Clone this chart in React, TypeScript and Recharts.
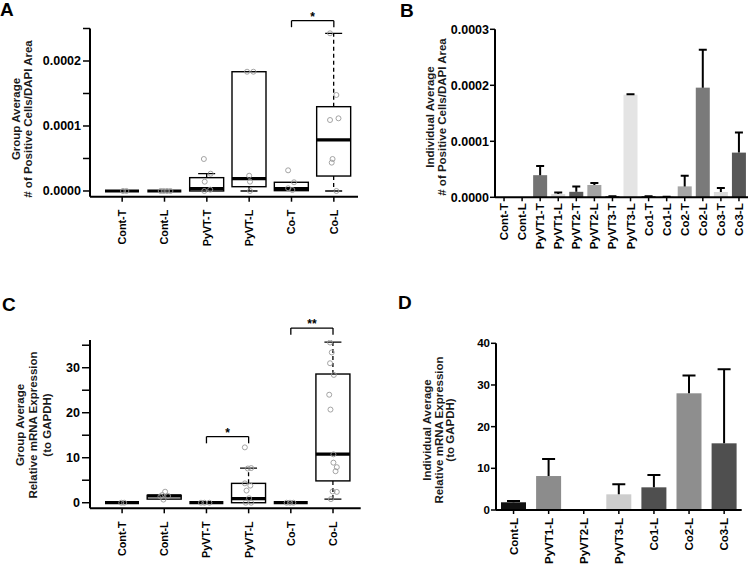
import React from 'react';
import { BarChart, ComposedChart, Bar, Scatter, XAxis, YAxis, ReferenceLine } from 'recharts';

const FONT = '"Liberation Sans", Arial, Helvetica, sans-serif';

// ---------- categories ----------
const groupCats = ['Cont-T', 'Cont-L', 'PyVT-T', 'PyVT-L', 'Co-T', 'Co-L'];
const indivCatsB = ['Cont-T', 'Cont-L', 'PyVT1-T', 'PyVT1-L', 'PyVT2-T', 'PyVT2-L', 'PyVT3-T', 'PyVT3-L', 'Co1-T', 'Co1-L', 'Co2-T', 'Co2-L', 'Co3-T', 'Co3-L'];
const indivCatsD = ['Cont-L', 'PyVT1-L', 'PyVT2-L', 'PyVT3-L', 'Co1-L', 'Co2-L', 'Co3-L'];

// ---------- panel A: group boxes (# positive cells / DAPI area) ----------
const aQ1 = [0, 0, 0, 0.0000066, 0.0000005, 0.000023];
const aMed = [0, 0, 0.0000035, 0.0000189, 0.0000035, 0.0000785];
const aQ3 = [0, 0, 0.0000205, 0.0001835, 0.0000134, 0.0001297];
const aLo = [0, 0, 0, 0, 0.0000005, 0];
const aHi = [0, 0, 0.0000266, 0.0001835, 0.0000134, 0.0002426];
// individual points: group (1-based), jitter (in category units), value
const aPtCat = [1, 1, 2, 2, 2, 2, 3, 3, 3, 3, 3, 4, 4, 4, 4, 4, 5, 5, 5, 5, 6, 6, 6, 6, 6, 6, 6];
const aPtJit = [0.02, 0.1, -0.09, -0.02, 0.06, 0.14, -0.07, 0.09, -0.05, -0.06, 0.08, -0.05, 0.1, 0, 0.02, 0.02, -0.08, 0.06, -0.08, 0.02, -0.09, 0.06, -0.09, 0.11, -0.03, -0.05, 0.06];
const aPtVal = [0, 0, 0, 0, 0, 0, 0.0000492, 0.0000266, 0.0000143, 0, 0.000002, 0.0001835, 0.0001835, 0.0000235, 0.0000143, 0, 0.0000318, 0.0000134, 0.0000042, 0.0000015, 0.0002426, 0.0001477, 0.0001092, 0.0001118, 0.0000492, 0.0000436, 0];
const aBrFrom = [5];
const aBrTo = [6];
const aBrY = [0.000262];
const aBrLeg = [0.000252];
const aBrText = ['*'];
const aTicks = [0, 0.00005, 0.0001, 0.00015, 0.0002, 0.00025];
const aLabelled = [0, 0.0001, 0.0002];

// ---------- panel B: individual bars ----------
const bVal = [0, 0, 0.0000395, 0.0000057, 0.0000098, 0.000022, 0.000002, 0.0001833, 0.000002, 0.000001, 0.0000195, 0.0001958, 0.0000095, 0.0000798];
const bErr = [0, 0, 0.0000162, 0.0000028, 0.0000095, 0.0000034, 0, 0.0000005, 0, 0, 0.000019, 0.0000679, 0.000007, 0.0000357];
const bColors = ['#222', '#222', '#737373', '#d8d8d8', '#5a5a5a', '#a3a3a3', '#3a3a3a', '#e4e4e4', '#3a3a3a', '#666', '#a6a6a6', '#7a7a7a', '#dadada', '#575757'];
const bTicks = [0, 0.0001, 0.0002, 0.0003];

// ---------- panel C: group boxes (mRNA expression) ----------
const cQ1 = [0, 0.8, 0, 0, 0, 4.85];
const cMed = [0, 1.5, 0, 0.9, 0, 10.8];
const cQ3 = [0, 1.65, 0, 4.3, 0, 28.6];
const cLo = [0, 0.8, 0, 0, 0, 0.8];
const cHi = [0, 1.65, 0, 7.7, 0, 35.7];
const cPtCat = [1, 1, 2, 2, 2, 2, 2, 3, 3, 3, 4, 4, 4, 4, 4, 4, 4, 4, 4, 5, 5, 5, 6, 6, 6, 6, 6, 6, 6, 6, 6, 6, 6, 6, 6];
const cPtJit = [-0.02, 0.05, 0.02, -0.05, 0.09, -0.09, -0.02, -0.13, -0.05, 0.07, -0.09, 0.06, -0.02, -0.09, 0.04, -0.05, 0.01, -0.07, 0.06, -0.1, -0.02, 0.06, -0.07, -0.03, -0.07, 0.02, -0.09, -0.06, 0.01, 0.01, 0.09, 0.06, -0.01, 0.09, -0.05];
const cPtVal = [0, 0, 2.45, 1.7, 1.5, 1.4, 0.7, 0, 0, 0, 12.3, 7.7, 7.6, 4.3, 3.8, 2.7, 1.0, 0, 0, 0, 0, 0, 35.6, 33.4, 31.0, 28.4, 24.0, 20.7, 10.75, 8.9, 7.9, 7.0, 2.5, 2.4, 0.8];
const cBrFrom = [3, 5];
const cBrTo = [4, 6];
const cBrY = [14.7, 38.8];
const cBrLeg = [13.2, 37.3];
const cBrText = ['*', '**'];
const cTicks = [0, 5, 10, 15, 20, 25, 30, 35];
const cLabelled = [0, 10, 20, 30];

// ---------- panel D: individual bars ----------
const dVal = [1.85, 8.15, 0, 3.76, 5.44, 28.0, 16.0];
const dErr = [0.3, 4.1, 0, 2.4, 2.96, 4.3, 17.8];
const dColors = ['#111', '#8c8c8c', '#8c8c8c', '#cdcdcd', '#4f4f4f', '#8e8e8e', '#4f4f4f'];
const dTicks = [0, 10, 20, 30, 40];

const boxRows = (q1: number[], med: number[], q3: number[], lo: number[], hi: number[]) =>
  groupCats.map((name, i) => ({ name, box: [q1[i], q3[i]], q1: q1[i], med: med[i], q3: q3[i], lo: lo[i], hi: hi[i] }));
const pointRows = (cat: number[], jit: number[], val: number[]) => cat.map((c, i) => ({ x: c + jit[i], y: val[i] }));
const barRows = (cats: string[], val: number[], err: number[]) => cats.map((name, i) => ({ name, value: val[i], err: err[i] }));

const makeXTick = (fs: number) => (props: any) => {
  const { x, y, payload } = props;
  return (
    <text x={x} y={y} transform={`rotate(-90 ${x} ${y})`} textAnchor="end" dominantBaseline="central"
      fontFamily={FONT} fontWeight="bold" fontSize={fs} fill="#000">
      {payload.value}
    </text>
  );
};

const makeYTick = (show: number[] | null, fmt: (v: number) => string, fs: number) => (props: any) => {
  const { x, y, payload } = props;
  if (show && !show.some((s) => Math.abs(s - payload.value) < 1e-12)) return <g />;
  return (
    <text x={x} y={y} dy="0.36em" textAnchor="end" fontFamily={FONT} fontWeight="bold" fontSize={fs} fill="#000">
      {fmt(payload.value)}
    </text>
  );
};

// box + whiskers drawn from the ranged bar [q1, q3]
const BoxShape = (props: any) => {
  const { x, y, width, height, payload } = props;
  const { q1, q3, med, lo, hi } = payload;
  const k = q3 > q1 ? height / (q3 - q1) : 0;
  const py = (v: number) => y + height - (v - q1) * k;
  const cx = x + width / 2;
  const cap = width / 2;
  return (
    <g>
      {hi > q3 && (
        <g stroke="#000" strokeWidth={1.3}>
          <line x1={cx} x2={cx} y1={py(q3)} y2={py(hi)} strokeDasharray="4 3" />
          <line x1={cx - cap / 2} x2={cx + cap / 2} y1={py(hi)} y2={py(hi)} />
        </g>
      )}
      {lo < q1 && (
        <g stroke="#000" strokeWidth={1.3}>
          <line x1={cx} x2={cx} y1={py(q1)} y2={py(lo)} strokeDasharray="4 3" />
          <line x1={cx - cap / 2} x2={cx + cap / 2} y1={py(lo)} y2={py(lo)} />
        </g>
      )}
      <rect x={x} y={y} width={width} height={height} fill="none" stroke="#000" strokeWidth={1.4} />
      <line x1={x} x2={x + width} y1={py(med)} y2={py(med)} stroke="#000" strokeWidth={3.2} />
    </g>
  );
};

const PointShape = (props: any) => (
  <circle cx={props.cx} cy={props.cy} r={2.5} fill="none" stroke="#9a9a9a" strokeWidth={0.9} />
);

const ErrBar = (props: any) => {
  const { x, y, width, height, fill, payload, cap } = props;
  const v = payload.value;
  if (!(v > 0)) return <g />;
  const k = height / v;
  const top = y - payload.err * k;
  const cx = x + width / 2;
  return (
    <g>
      <rect x={x} y={y} width={width} height={height} fill={fill} />
      <line x1={cx} x2={cx} y1={y} y2={top} stroke="#000" strokeWidth={2} />
      <line x1={cx - cap / 2} x2={cx + cap / 2} y1={top} y2={top} stroke="#000" strokeWidth={2} />
    </g>
  );
};

type BoxPanelProps = {
  width: number;
  height: number;
  margin: { top: number; right: number; bottom: number; left: number };
  pad: { left: number; right: number };
  xAxisHeight: number;
  xGap: number;
  domain: [number, number];
  ticks: number[];
  labelled: number[];
  fmt: (v: number) => string;
  yTickSize: number;
  rows: any[];
  points: any[];
  brFrom: number[];
  brTo: number[];
  brY: number[];
  brLeg: number[];
  brText: string[];
};

function BoxPanel(p: BoxPanelProps) {
  const n = p.rows.length;
  const line = { stroke: '#000', strokeWidth: 1.3 };
  return (
    <ComposedChart width={p.width} height={p.height} data={p.rows} margin={p.margin}>
      <XAxis xAxisId="c" dataKey="name" type="category" padding={p.pad} height={p.xAxisHeight} interval={0}
        axisLine={{ stroke: '#000', strokeWidth: 2 }} tickLine={{ stroke: '#000', strokeWidth: 1.5 }}
        tickSize={5} tickMargin={p.xGap} tick={makeXTick(10.8)} />
      <XAxis xAxisId="j" dataKey="x" type="number" domain={[0.5, n + 0.5]} allowDataOverflow padding={p.pad} hide />
      <YAxis domain={p.domain} allowDataOverflow ticks={p.ticks} interval={0} width={60}
        axisLine={{ stroke: '#000', strokeWidth: 2 }} tickLine={{ stroke: '#000', strokeWidth: 1.5 }}
        tickSize={p.yTickSize} tickMargin={2} tick={makeYTick(p.labelled, p.fmt, 12.5)} />
      <Bar xAxisId="c" dataKey="box" barSize={34} shape={BoxShape} isAnimationActive={false} />
      <Scatter xAxisId="j" data={p.points} dataKey="y" shape={PointShape} isAnimationActive={false} />
      {p.brFrom.map((f, i) => (
        <ReferenceLine key={`h${i}`} xAxisId="j" ifOverflow="visible" {...line}
          segment={[{ x: f, y: p.brY[i] }, { x: p.brTo[i], y: p.brY[i] }]}
          label={{ value: p.brText[i], position: 'top', offset: 0, fill: '#000', fontSize: 12, fontWeight: 'bold', fontFamily: FONT }} />
      ))}
      {p.brFrom.map((f, i) => (
        <ReferenceLine key={`l${i}`} xAxisId="j" ifOverflow="visible" {...line}
          segment={[{ x: f, y: p.brY[i] }, { x: f, y: p.brLeg[i] }]} />
      ))}
      {p.brTo.map((t, i) => (
        <ReferenceLine key={`r${i}`} xAxisId="j" ifOverflow="visible" {...line}
          segment={[{ x: t, y: p.brY[i] }, { x: t, y: p.brLeg[i] }]} />
      ))}
    </ComposedChart>
  );
}

type BarPanelProps = {
  width: number;
  height: number;
  margin: { top: number; right: number; bottom: number; left: number };
  xAxisHeight: number;
  xGap: number;
  domain: [number, number];
  ticks: number[];
  fmt: (v: number) => string;
  tickFont: number;
  labelFont: number;
  barSize: number;
  cap: number;
  colors: string[];
  rows: any[];
};

function BarPanel(p: BarPanelProps) {
  return (
    <BarChart width={p.width} height={p.height} data={p.rows} margin={p.margin} barCategoryGap={0}>
      <XAxis dataKey="name" height={p.xAxisHeight} interval={0}
        axisLine={{ stroke: '#000', strokeWidth: 2 }} tickLine={{ stroke: '#000', strokeWidth: 1.5 }}
        tickSize={4} tickMargin={p.xGap} tick={makeXTick(p.labelFont)} />
      <YAxis domain={p.domain} allowDataOverflow ticks={p.ticks} interval={0} width={60}
        axisLine={{ stroke: '#000', strokeWidth: 2 }} tickLine={{ stroke: '#000', strokeWidth: 1.5 }}
        tickSize={5} tickMargin={1} tick={makeYTick(null, p.fmt, p.tickFont)} />
      <Bar dataKey="value" barSize={p.barSize} isAnimationActive={false}
        shape={(s: any) => <ErrBar {...s} fill={p.colors[s.index]} cap={p.cap} />} />
    </BarChart>
  );
}

function RotTitle({ x, cy, gap, lines }: { x: number; cy: number; gap: number; lines: string[] }) {
  return (
    <g>
      {lines.map((t, i) => (
        <text key={i} transform={`translate(${x + i * gap} ${cy}) rotate(-90)`} textAnchor="middle" dominantBaseline="central"
          fontFamily={FONT} fontWeight="bold" fontSize={11.5} fill="#1a1a1a">
          {t}
        </text>
      ))}
    </g>
  );
}

const place = (left: number, top: number): React.CSSProperties => ({ position: 'absolute', left, top });

export default function App() {
  const fmt4 = (v: number) => v.toFixed(4);
  const fmt0 = (v: number) => String(v);
  return (
    <div style={{ position: 'absolute', left: 0, top: 0, width: 749, height: 564, background: '#fff', overflow: 'hidden' }}>
      <div style={place(0, 0)}>
        <BoxPanel width={370} height={280} margin={{ top: 28.5, right: 12, bottom: 23.3, left: 30 }}
          pad={{ left: 11, right: 3 }} xAxisHeight={60} xGap={8}
          domain={[-0.0000088, 0.00025]} ticks={aTicks} labelled={aLabelled} fmt={fmt4} yTickSize={7}
          rows={boxRows(aQ1, aMed, aQ3, aLo, aHi)} points={pointRows(aPtCat, aPtJit, aPtVal)}
          brFrom={aBrFrom} brTo={aBrTo} brY={aBrY} brLeg={aBrLeg} brText={aBrText} />
      </div>
      <div style={place(370, 0)}>
        <BarPanel width={379} height={280} margin={{ top: 29.3, right: 1, bottom: 22.7, left: 65 }}
          xAxisHeight={60} xGap={2} domain={[0, 0.0003]} ticks={bTicks} fmt={fmt4} tickFont={12.5} labelFont={11.5}
          barSize={14} cap={8} colors={bColors} rows={barRows(indivCatsB, bVal, bErr)} />
      </div>
      <div style={place(0, 280)}>
        <BoxPanel width={370} height={284} margin={{ top: 60, right: 9.3, bottom: 5.7, left: 30 }}
          pad={{ left: 11, right: 6.6 }} xAxisHeight={50} xGap={8}
          domain={[-1.24, 36.16]} ticks={cTicks} labelled={cLabelled} fmt={fmt0} yTickSize={8}
          rows={boxRows(cQ1, cMed, cQ3, cLo, cHi)} points={pointRows(cPtCat, cPtJit, cPtVal)}
          brFrom={cBrFrom} brTo={cBrTo} brY={cBrY} brLeg={cBrLeg} brText={cBrText} />
      </div>
      <div style={place(370, 280)}>
        <BarPanel width={379} height={284} margin={{ top: 63.3, right: 7.3, bottom: 4, left: 66 }}
          xAxisHeight={50} xGap={4} domain={[0, 40]} ticks={dTicks} fmt={fmt0} tickFont={11.5} labelFont={11.5}
          barSize={25} cap={13} colors={dColors} rows={barRows(indivCatsD, dVal, dErr)} />
      </div>
      <svg width={749} height={564} style={{ position: 'absolute', left: 0, top: 0, pointerEvents: 'none' }}>
        <g fontFamily={FONT} fontWeight="bold" fontSize={19} fill="#000">
          <text x={0} y={16}>A</text>
          <text x={400} y={17}>B</text>
          <text x={2} y={311}>C</text>
          <text x={398} y={309}>D</text>
        </g>
        <RotTitle x={15.7} cy={119} gap={12.3} lines={['Group Average', '# of Positive Cells/DAPI Area']} />
        <RotTitle x={430} cy={117} gap={11.7} lines={['Individual Average', '# of Positive Cells/DAPI Area']} />
        <RotTitle x={20} cy={425} gap={13.3} lines={['Group Average', 'Relative mRNA Expression', '(to GAPDH)']} />
        <RotTitle x={427.3} cy={430} gap={11.4} lines={['Individual Average', 'Relative mRNA Expression', '(to GAPDH)']} />
      </svg>
    </div>
  );
}
